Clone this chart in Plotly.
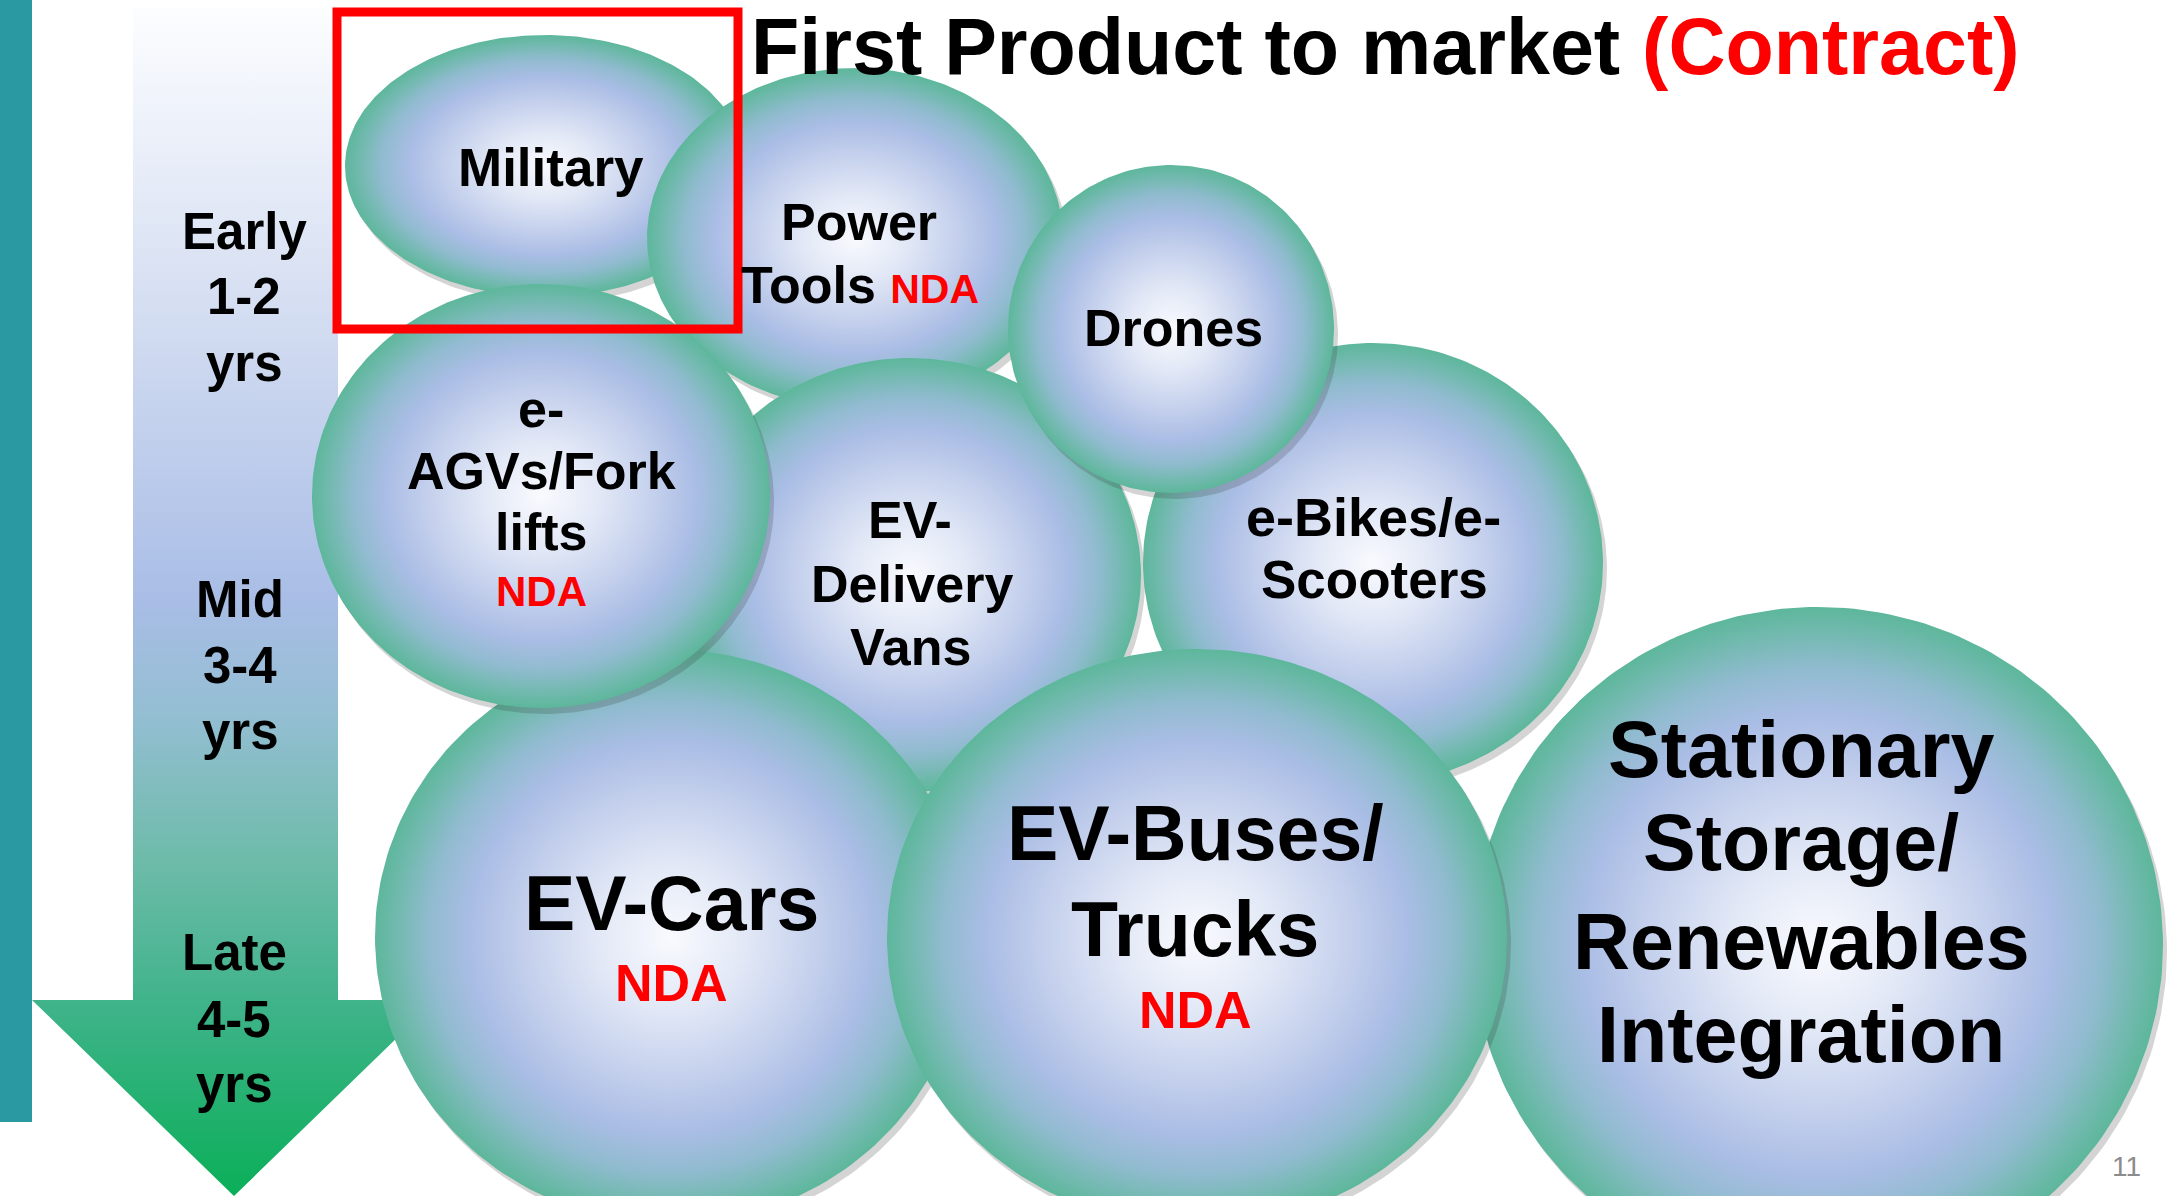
import numpy as np
import plotly.graph_objects as go

W, H = 2177, 1196

# ---------------- content ----------------
title_main = "First Product to market "
title_red = "(Contract)"
stage_labels = [["Early", "1-2", "yrs"], ["Mid", "3-4", "yrs"], ["Late", "4-5", "yrs"]]
bubble_names = ["Military", "Power Tools", "EV-Delivery Vans", "e-Bikes/e-Scooters", "Drones",
                "Stationary Storage/Renewables Integration", "EV-Cars", "e-AGVs/Fork lifts",
                "EV-Buses/Trucks"]
bubble_lines = [
    ["Military"],
    ["Power", "Tools"],
    ["EV-", "Delivery", "Vans"],
    ["e-Bikes/e-", "Scooters"],
    ["Drones"],
    ["Stationary", "Storage/", "Renewables", "Integration"],
    ["EV-Cars"],
    ["e-", "AGVs/Fork", "lifts"],
    ["EV-Buses/", "Trucks"],
]
bubble_tag = ["", "NDA", "", "", "", "", "NDA", "NDA", "NDA"]
tag_inline = [False, True, False, False, False, False, False, False, False]
page_number = "11"

# ---------------- layout geometry (pixels of the slide) ----------------
# (center x, center y, radius x, radius y), drawn in this order (back to front)
bubble_geom = [
    (545, 166, 200, 131),
    (855, 238, 208, 170),
    (910, 575, 231, 217),
    (1373, 563, 230, 220),
    (1171, 329, 163, 164),
    (1818, 945, 345, 338),
    (671, 937, 296, 287),
    (541, 496, 229, 212),
    (1197, 938, 310, 289),
]
# per line: (x, y, font size)
bubble_text_pos = [
    [(551, 167, 53)],
    [(859, 222, 52), (860, 285, 52)],
    [(910, 520, 52), (912, 584, 52), (910, 647, 52)],
    [(1373, 517, 54), (1374, 579, 53)],
    [(1173, 328, 52)],
    [(1801, 749, 79), (1801, 842, 79), (1801, 941, 79), (1801, 1034, 79)],
    [(671, 903, 77)],
    [(541, 409, 52), (541, 471, 52), (541, 532, 52)],
    [(1195, 833, 77), (1195, 929, 77)],
]
bubble_tag_pos = [None, 41, None, None, None, None, (671, 983, 52), (541, 591, 42), (1195, 1010, 52)]
stage_pos = [
    [(244, 231), (244, 296), (244, 363)],
    [(240, 599), (240, 665), (240, 731)],
    [(234, 952), (234, 1019), (234, 1084)],
]
stage_size = 51

FONT = "Liberation Sans, Arial, sans-serif"
BUBBLE_SCALE = [[0.0, "#F9FAFE"], [0.25, "#E2E8F6"], [0.5, "#C3CFEC"], [0.68, "#AABDE5"],
                [0.82, "#90BBCF"], [0.93, "#71B9AE"], [1.0, "#5DB79B"]]
ARROW_SCALE = [[0.0, "#FDFEFF"], [0.25, "#D6DFF2"], [0.5, "#A9BDE6"], [0.6, "#93BED2"],
               [0.72, "#6DBBA9"], [0.84, "#3FB38A"], [1.0, "#0AAF58"]]

fig = go.Figure()

# Arrow (shaft + head) with vertical gradient
ax_pts = [133, 338, 338, 436, 234, 32, 133, 133]
ay_pts = [8, 8, 1000, 1000, 1196, 1000, 1000, 8]
fig.add_trace(go.Scatter(x=ax_pts, y=ay_pts, mode="lines", line=dict(width=0),
                         fill="toself",
                         fillgradient=dict(type="vertical", colorscale=ARROW_SCALE, start=0, stop=1196),
                         hoverinfo="skip", showlegend=False))

t = np.linspace(0, 2 * np.pi, 241)
for name, (cx, cy, rx, ry) in zip(bubble_names, bubble_geom):
    # soft shadow
    fig.add_trace(go.Scatter(x=cx + 4 + rx * np.cos(t), y=cy + 6 + ry * np.sin(t), mode="lines",
                             line=dict(width=0), fill="toself", fillcolor="rgba(60,60,60,0.22)",
                             hoverinfo="skip", showlegend=False))
    fig.add_trace(go.Scatter(x=cx + rx * np.cos(t), y=cy + ry * np.sin(t), mode="lines",
                             line=dict(width=0), fill="toself", name=name,
                             fillgradient=dict(type="radial", colorscale=BUBBLE_SCALE),
                             hoverinfo="skip", showlegend=False))

shapes = [
    dict(type="rect", xref="x", yref="y", x0=0, x1=32, y0=0, y1=1122,
         fillcolor="#2B99A1", line=dict(width=0), layer="below"),
    dict(type="rect", xref="x", yref="y", x0=337, x1=738, y0=12, y1=329,
         fillcolor="rgba(0,0,0,0)", line=dict(color="#FF0000", width=9), layer="above"),
]

annotations = []


def add_text(x, y, text, size, color="black", weight="bold", family=FONT):
    annotations.append(dict(x=x, y=y, xref="x", yref="y", text=text, showarrow=False,
                            xanchor="center", yanchor="middle",
                            font=dict(family=family, size=size, color=color, weight=weight)))


for lines, pos, tag, tpos, inline in zip(bubble_lines, bubble_text_pos, bubble_tag, bubble_tag_pos, tag_inline):
    for i, (line, (x, y, s)) in enumerate(zip(lines, pos)):
        txt = line
        if inline and i == len(lines) - 1 and tag:
            txt = f"{line} <span style='color:#FF0000;font-size:{tpos}px'>{tag}</span>"
        add_text(x, y, txt, s)
    if tag and not inline:
        x, y, s = tpos
        add_text(x, y, tag, s, color="#FF0000")

for group, gpos in zip(stage_labels, stage_pos):
    for line, (x, y) in zip(group, gpos):
        add_text(x, y, line, stage_size)

add_text(1385, 46, f"{title_main}<span style='color:#FF0000'>{title_red}</span>", 79)
annotations.append(dict(x=2126, y=1166, xref="x", yref="y", text=page_number, showarrow=False,
                        xanchor="center", yanchor="middle",
                        font=dict(family=FONT, size=28, color="#8C8C8C")))

fig.update_layout(
    width=W, height=H, margin=dict(l=0, r=0, t=0, b=0),
    paper_bgcolor="white", plot_bgcolor="white",
    xaxis=dict(range=[0, W], visible=False, fixedrange=True),
    yaxis=dict(range=[H, 0], visible=False, fixedrange=True),
    shapes=shapes, annotations=annotations, showlegend=False,
)

fig.write_html("out.html", config={"displayModeBar": False},
               post_script="document.body.style.margin='0';document.body.style.overflow='hidden';")
